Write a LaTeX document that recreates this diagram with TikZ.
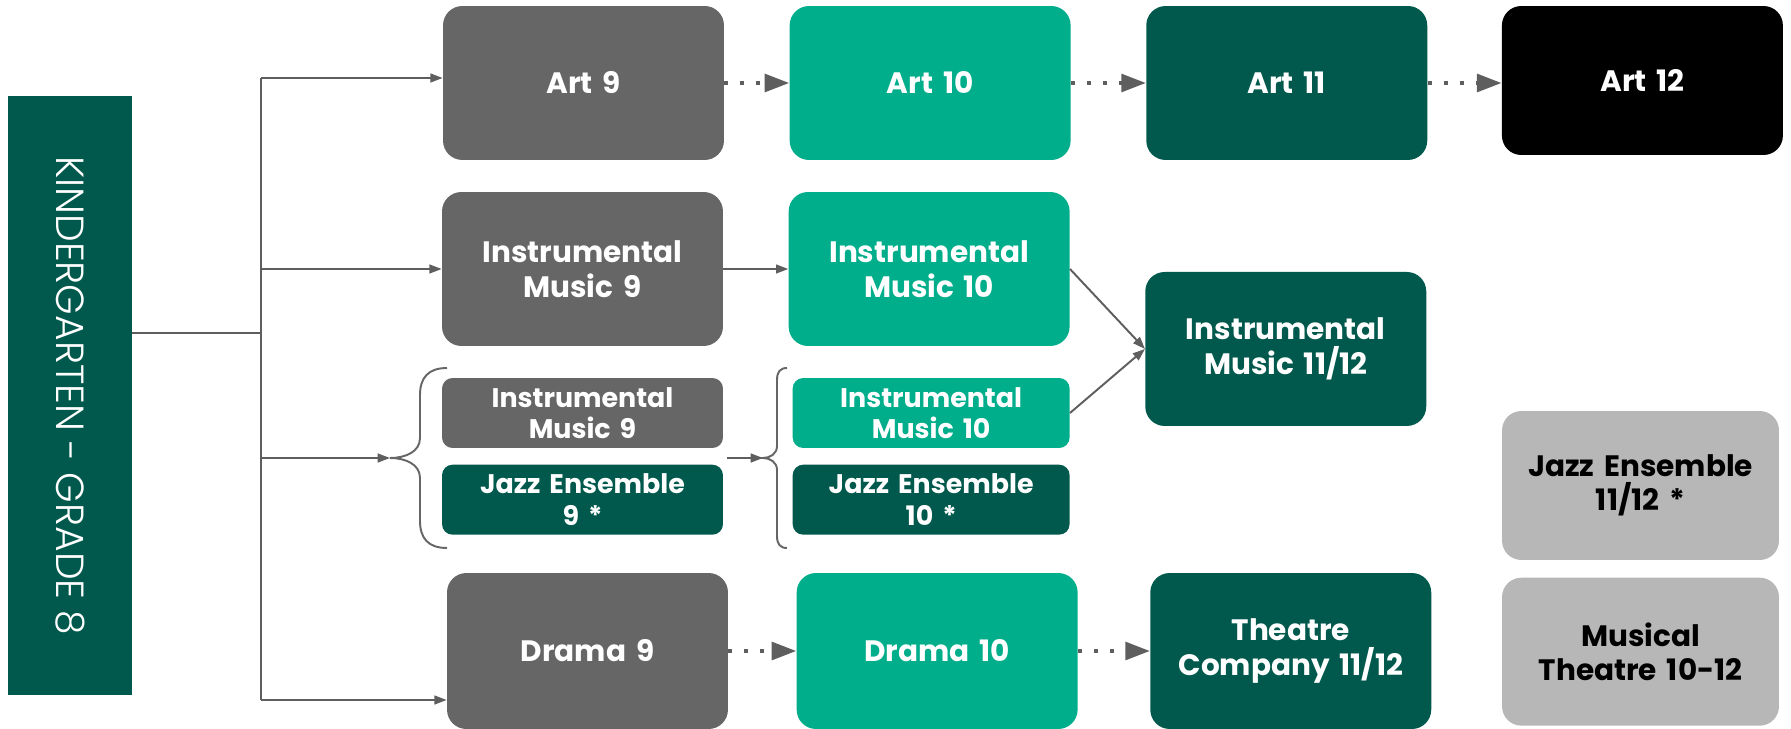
\documentclass[tikz,border=0pt]{standalone}
\usepackage{fontspec}
\setmainfont{Poppins}
\newfontfamily\lightfont{Poppins Light}
\usepackage{tikz}
\usetikzlibrary{shapes,arrows.meta,calc}
\usetikzlibrary{positioning}
\definecolor{boxgrey}{HTML}{666666}
\definecolor{boxteal}{HTML}{00AE8B}
\definecolor{boxdark}{HTML}{00594C}
\definecolor{boxlight}{HTML}{B7B7B7}
\definecolor{linegrey}{HTML}{5E5E5E}
\tikzstyle{arrow} = [draw=linegrey, line width=1.1pt, -{Triangle[length=7pt,width=5pt,fill=linegrey]}]
\tikzstyle{dotarrow} = [draw=linegrey, line width=2.3pt, dash pattern=on 2.3pt off 6.8pt,
    -{Triangle[length=14pt,width=10pt,fill=linegrey]}]
\tikzstyle{brace} = [draw=boxgrey, line width=1.1pt]
\tikzstyle{course} = [
    rectangle, rounded corners=11pt, minimum width=5.62cm, minimum height=3.08cm, text centered,
    text width=5.4cm, inner sep=0pt, text=white,
    font=\fontsize{16.8}{19.6}\selectfont\bfseries]
\tikzstyle{option} = [course, rounded corners=6pt, minimum height=1.4cm,
    font=\fontsize{15.3}{18}\selectfont\bfseries]

\begin{document}
\begin{tikzpicture}[x=0.02cm, y=-0.02cm]
\useasboundingbox (0,0) rectangle (1791,729);

\node (kg) [rectangle, fill=boxdark, rotate=-90, minimum width=11.98cm, minimum height=2.48cm,
    text=white, font=\lightfont\fontsize{22.3}{24}\selectfont] at (70,395.5) {KINDERGARTEN - GRADE 8};

% art
\node (art9) [course, fill=boxgrey] at (583.5,83) {Art 9};
\node (art10) [course, fill=boxteal, right=1.3cm of art9] {Art 10};
\node (art11) [course, fill=boxdark, right=1.5cm of art10] {Art 11};
\node (art12) [course, fill=black, minimum height=2.98cm, right=1.48cm of art11, yshift=0.05cm] {Art 12};

% music
\node (im9) [course, fill=boxgrey] at (582.5,269) {Instrumental \\ Music 9};
\node (im10) [course, fill=boxteal, right=1.3cm of im9] {Instrumental \\ Music 10};
\node (im1112) [course, fill=boxdark, right=1.5cm of im10, yshift=-1.6cm] {Instrumental \\ Music 11/12};

\node (smim9) [option, fill=boxgrey] at (582.5,413) {Instrumental \\ Music 9};
\node (jazz9) [option, fill=boxdark, below=0.32cm of smim9] {Jazz Ensemble \\ 9 *};
\node (smim10) [option, fill=boxteal, minimum width=5.54cm, right=1.38cm of smim9] {Instrumental \\ Music 10};
\node (jazz10) [option, fill=boxdark, minimum width=5.54cm, below=0.32cm of smim10] {Jazz Ensemble \\ 10 *};

\node (jazz1112) [course, fill=boxlight, text=black, minimum width=5.54cm, minimum height=2.98cm]
    at (1640.5,485.5) {Jazz Ensemble \\ 11/12 *};
\node (mt) [course, fill=boxlight, text=black, minimum width=5.54cm, minimum height=2.96cm,
    below=0.34cm of jazz1112] {Musical \\ Theatre 10-12};

% drama
\node (drama9) [course, fill=boxgrey, minimum height=3.12cm] at (587.5,651) {Drama 9};
\node (drama10) [course, fill=boxteal, minimum height=3.12cm, right=1.36cm of drama9] {Drama 10};
\node (theatre) [course, fill=boxdark, minimum height=3.12cm, right=1.44cm of drama10] {Theatre \\ Company 11/12};

% trunk and braces
\coordinate (split) at (261,333);
\coordinate (top) at (261,78);
\coordinate (bottom) at (261,700);
\coordinate (tip9) at (390,458);
\coordinate (out9) at (727,458);
\coordinate (tip10) at (763,458);

\draw [brace] (447,368) .. controls (428,368) and (420,378) .. (420,395) -- (420,438)
    .. controls (420,452) and (405,458) .. (tip9) .. controls (405,458) and (420,464) .. (420,478)
    -- (420,521) .. controls (420,538) and (428,548) .. (447,548);
\draw [brace] (787,368) .. controls (780,368) and (777,372) .. (777,380) -- (777,446)
    .. controls (777,454) and (770,458) .. (tip10) .. controls (770,458) and (777,462) .. (777,470)
    -- (777,536) .. controls (777,544) and (780,548) .. (787,548);

\draw [draw=linegrey, line width=1.1pt] (kg.north |- split) -- (split);
\draw [draw=linegrey, line width=1.1pt] (top) -- (bottom);
\draw [arrow] (top) -- (top -| art9.west);
\draw [arrow] (top |- im9.west) -- (im9.west);
\draw [arrow] (top |- tip9) -- (tip9);
\draw [arrow] (bottom) -- (bottom -| drama9.west);

\draw [dotarrow] (art9) -- (art10);
\draw [dotarrow] (art10) -- (art11);
\draw [dotarrow] (art11.east) -- (art11.east -| art12.west);
\draw [dotarrow] (drama9) -- (drama10);
\draw [dotarrow] (drama10) -- (theatre);

\draw [arrow] (im9) -- (im10);
\draw [arrow] (im10.east) -- (im1112.west);
\draw [arrow] (smim10.east) -- (im1112.west);
\draw [arrow] (out9) -- (tip10);
\end{tikzpicture}
\end{document}
